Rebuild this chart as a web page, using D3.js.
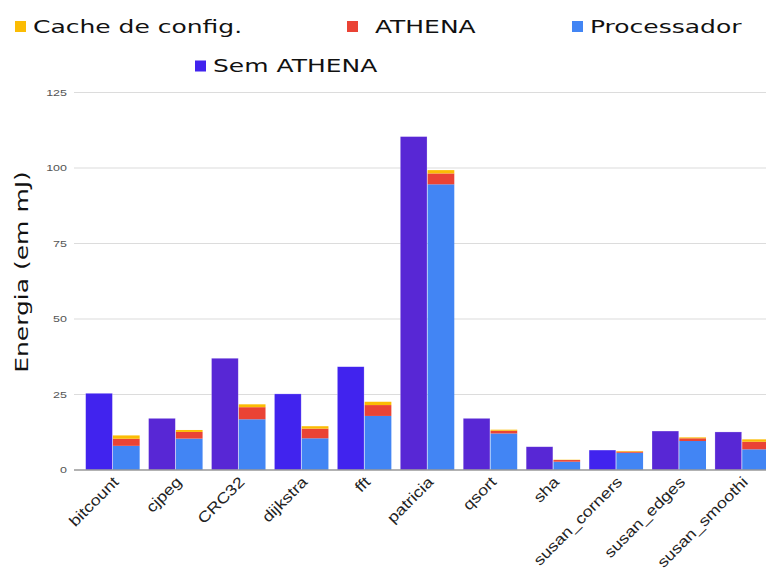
<!DOCTYPE html>
<html><head><meta charset="utf-8">
<script src="https://cdn.jsdelivr.net/npm/d3@7"></script>
<style>html,body{margin:0;padding:0;background:#fff;}svg{display:block;}</style>
</head><body>
<svg id="chart" width="766" height="568"></svg>
<script>
const categories = ["bitcount","cjpeg","CRC32","dijkstra","fft","patricia","qsort","sha","susan_corners","susan_edges","susan_smoothi"];
const semAthena  = [25.4, 17.1, 37.0, 25.2, 34.2, 110.4, 17.1, 7.7, 6.6, 12.9, 12.6];
const processador= [8.0, 10.4, 16.8, 10.5, 17.9, 94.6, 12.1, 2.75, 5.7, 9.6, 6.85];
const athena     = [2.35, 2.2, 4.0, 3.2, 3.6, 3.6, 0.9, 0.55, 0.4, 0.9, 2.5];
const cacheConfig= [1.1, 0.65, 0.95, 0.8, 1.1, 1.1, 0.35, 0.1, 0.2, 0.3, 0.8];
const yTicks = [0, 25, 50, 75, 100, 125];
const legendLabels = ["Cache de config.", " ATHENA", "Processador", "Sem ATHENA"];

const C_YEL = "#fbbc04", C_RED = "#ea4335", C_BLUE = "#4285f4";
const C_SEM_A = "#4123ee", C_SEM_B = "#5827d5";
const semColors = [C_SEM_A, C_SEM_B, C_SEM_B, C_SEM_A, C_SEM_A, C_SEM_B, C_SEM_B, C_SEM_B, C_SEM_A, C_SEM_B, C_SEM_B];
const STRETCH = 1.47;

const svg = d3.select("#chart");
const y = d3.scaleLinear().domain([0, 125]).range([470, 92.5]);
const x0 = d3.scaleBand().domain(categories).range([81.2, 773.4]).paddingInner(0.142).paddingOuter(0.071);
const x1 = d3.scaleBand().domain(["sem","com"]).range([0, x0.bandwidth()]).paddingInner(0.02);

// gridlines
const grid = svg.append("g");
grid.selectAll("line").data(yTicks.filter(d => d > 0)).join("line")
  .attr("x1", 74).attr("x2", 766)
  .attr("y1", d => y(d)).attr("y2", d => y(d))
  .attr("stroke", "#dcdcdc").attr("stroke-width", 1.2);

// y tick labels
const yAxis = d3.axisLeft(y).tickValues(yTicks).tickSize(0).tickPadding(0);
const ya = svg.append("g").attr("transform", "translate(67,0)").call(yAxis);
ya.select(".domain").remove();
ya.selectAll("text")
  .attr("x", 0).attr("dy", "0.35em")
  .attr("font-family", "Liberation Sans, Arial, sans-serif")
  .attr("font-size", 8.5).attr("fill", "#555")
  .attr("text-anchor", "end")
  .attr("transform", d => `translate(0,${y(d)}) scale(${STRETCH},1) translate(0,${-y(d)})`);

// bars
const groups = svg.append("g").selectAll("g").data(categories).join("g")
  .attr("transform", d => `translate(${x0(d)},0)`);

groups.append("rect")
  .attr("x", x1("sem")).attr("width", x1.bandwidth())
  .attr("y", (d, i) => y(semAthena[i])).attr("height", (d, i) => y(0) - y(semAthena[i]))
  .attr("fill", (d, i) => semColors[i])
  .attr("stroke", "#ffffff").attr("stroke-opacity", 0.4).attr("stroke-width", 0.6);

const stackKeys = ["processador", "athena", "cache"];
const stackColors = { processador: C_BLUE, athena: C_RED, cache: C_YEL };
const rows = categories.map((c, i) => ({ cat: c, processador: processador[i], athena: athena[i], cache: cacheConfig[i] }));
const stacked = d3.stack().keys(stackKeys)(rows);

svg.append("g").selectAll("g").data(stacked).join("g")
  .attr("fill", s => stackColors[s.key])
  .selectAll("rect").data(s => s).join("rect")
  .attr("x", d => x0(d.data.cat) + x1("com")).attr("width", x1.bandwidth())
  .attr("y", d => y(d[1])).attr("height", d => y(d[0]) - y(d[1]));

// baseline
svg.append("line").attr("x1", 74).attr("x2", 766).attr("y1", y(0)).attr("y2", y(0))
  .attr("stroke", "#999").attr("stroke-width", 1.6);

// x labels
svg.append("g").selectAll("text").data(categories).join("text")
  .attr("transform", d => `translate(${x0(d) + x0.bandwidth() / 2 + 7},483) rotate(-45) scale(1.2,1)`)
  .attr("text-anchor", "end")
  .attr("font-family", "Liberation Sans, Arial, sans-serif")
  .attr("font-size", 15).attr("fill", "#222")
  .text(d => d);

// y title
svg.append("text")
  .attr("transform", `translate(28,272) rotate(-90) scale(${STRETCH},1)`)
  .attr("text-anchor", "middle")
  .attr("font-family", "DejaVu Sans, sans-serif")
  .attr("font-size", 17).attr("fill", "#111")
  .text("Energia (em mJ)");

// legend
const legendItems = [
  { label: legendLabels[0], color: C_YEL,  sx: 15,  tx: 33,  by: 32.5 },
  { label: legendLabels[1], color: C_RED,  sx: 347, tx: 367, by: 32.5 },
  { label: legendLabels[2], color: C_BLUE, sx: 572, tx: 590, by: 32.5 },
  { label: legendLabels[3], color: C_SEM_A, sx: 195, tx: 213, by: 72 }
];
const lg = svg.append("g").selectAll("g").data(legendItems).join("g");
lg.append("rect").attr("x", d => d.sx).attr("y", d => d.by - 11.5).attr("width", 11).attr("height", 11)
  .attr("fill", d => d.color);
lg.append("text")
  .attr("transform", d => `translate(${d.tx},${d.by}) scale(${STRETCH},1)`)
  .attr("font-family", "DejaVu Sans, sans-serif")
  .attr("font-size", 17).attr("fill", "#111")
  .attr("xml:space", "preserve")
  .style("white-space", "pre")
  .text(d => d.label);
</script>
</body></html>
